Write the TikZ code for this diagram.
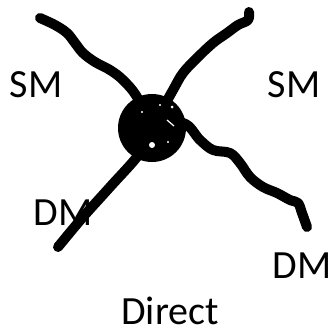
\documentclass[tikz,border=0pt]{standalone}
\usepackage{fontspec}
\setmainfont{Carlito}
\usetikzlibrary{positioning}

\tikzset{
    leg/.style={line width=10pt, line cap=round, line join=round},
    lbl/.style={anchor=base, inner sep=0pt, text depth=0pt, font=\fontsize{40}{42}\selectfont}
}

\begin{document}
\begin{tikzpicture}[x=1pt, y=-1pt]

\useasboundingbox (0,0) rectangle (336,334);

% Vertex blob
\node[circle, fill=black, inner sep=0pt, minimum size=68pt] (blob) at (152,128) {};

% Free ends of the legs
\coordinate (tlEnd) at (40,18);
\coordinate (trEnd) at (249,12);
\coordinate (blEnd) at (58,247);
\coordinate (brEnd) at (307,227);

% Legs
\draw[leg] plot[smooth, tension=0.6] coordinates {
    (tlEnd) (55,25) (67,33) (75,43) (83,53) (95,62) (110,70) (123,80) (137,97) (blob)};
\draw[leg] plot[smooth, tension=0.6] coordinates {
    (trEnd) (248,20) (238,25) (227,33) (213,43) (197,58) (183,73) (173,90) (blob)};
\draw[leg] plot[smooth, tension=0.6] coordinates {
    (blEnd) (83,217) (110,187) (140,153) (blob)};
\draw[leg] plot[smooth, tension=0.6] coordinates {
    (blob) (183,123) (200,140) (213,150) (230,153) (240,163) (250,177)
    (263,187) (277,193) (290,200) (298,203) (302,213) (brEnd)};

% Specks in the scribble
\fill[white] (152,145) circle (3);
\fill[white] (142,112) circle (1.2);
\fill[white] (160,105) circle (1.2);
\fill[white] (172,107) circle (1.5);
\fill[white] (168,142) circle (1.2);
\draw[white, line width=1.2pt] (167,120) -- (174,126);

% Labels
\node[lbl] (smL) at (36,97) {SM};
\node[lbl] (smR) at (294,97) {SM};
\node[lbl] (dmL) at (63,225) {DM};
\node[lbl] (dmR) at (302,278) {DM};
\node[lbl] (title) at (170,324) {Direct};

\end{tikzpicture}
\end{document}
